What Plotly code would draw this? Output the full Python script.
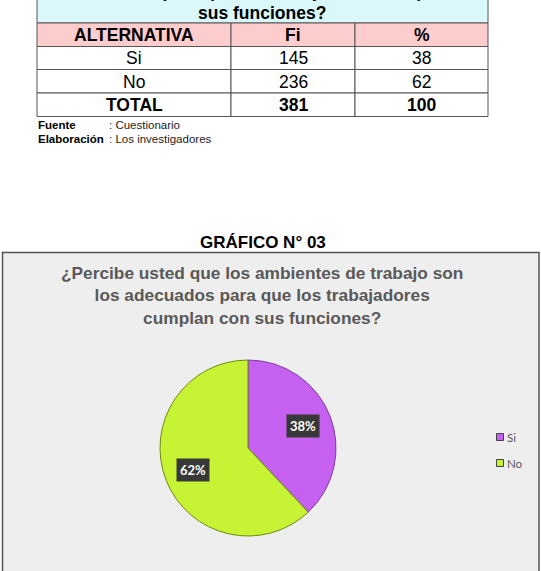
import math
import plotly.graph_objects as go

W, H = 541, 571

# ---- data ----
categories = ["Si", "No"]
fi_values = [145, 236]
pct_values = [38, 62]
total_label = "TOTAL"
total_fi = 381
total_pct = 100
table_headers = ["ALTERNATIVA", "Fi", "%"]
table_title_lines = ["los adecuados para que los trabajadores cumplan con", "sus funciones?"]
chart_title = "¿Percibe usted que los ambientes de trabajo son<br>los adecuados para que los trabajadores<br>cumplan con sus funciones?"
figure_caption = "GRÁFICO N° 03"
source_rows = [("Fuente", ": Cuestionario"), ("Elaboración", ": Los investigadores")]
slice_colors = ["#c660f0", "#c6f334"]
slice_edges = ["#7d3a9a", "#6f8a12"]


def px(x):
    return x / W


def py(y):
    return 1 - y / H


fig = go.Figure()
shapes = []
annotations = []
FONT = "Liberation Sans, Arial"

# ---- table (grid geometry) ----
col_edges = [37, 231, 355, 488]
row_edges = [23, 46.5, 69.5, 93, 116.5]
table_rows = [table_headers] + [[c, str(f), str(p)] for c, f, p in zip(categories, fi_values, pct_values)] \
    + [[total_label, str(total_fi), str(total_pct)]]
bold_rows = {0, len(table_rows) - 1}

# title row
shapes.append(dict(type="rect", xref="paper", yref="paper",
                   x0=px(col_edges[0]), x1=px(col_edges[-1]), y0=py(row_edges[0]), y1=py(-5),
                   fillcolor="#daf7fc", line=dict(color="#555555", width=1)))
for i, line in enumerate(table_title_lines):
    annotations.append(dict(text=f"<b>{line}</b>", xref="paper", yref="paper",
                            x=px(262), y=py(-9 + 22 * i), xanchor="center", yanchor="middle",
                            showarrow=False, font=dict(family=FONT, size=17.5, color="black")))

for ri, row in enumerate(table_rows):
    y0, y1 = row_edges[ri], row_edges[ri + 1]
    fill = "#fdcccc" if ri == 0 else "white"
    for ci, val in enumerate(row):
        x0, x1 = col_edges[ci], col_edges[ci + 1]
        shapes.append(dict(type="rect", xref="paper", yref="paper",
                           x0=px(x0), x1=px(x1), y0=py(y1), y1=py(y0),
                           fillcolor=fill, line=dict(color="#555555", width=1)))
        txt = f"<b>{val}</b>" if ri in bold_rows else val
        annotations.append(dict(text=txt, xref="paper", yref="paper",
                                x=px((x0 + x1) / 2), y=py((y0 + y1) / 2 + 0.5),
                                xanchor="center", yanchor="middle", showarrow=False,
                                font=dict(family=FONT, size=17.5, color="black")))

# source lines
for i, (k, v) in enumerate(source_rows):
    yy = 124.5 + 14 * i
    annotations.append(dict(text=f"<b>{k}</b>", xref="paper", yref="paper", x=px(36), y=py(yy),
                            xanchor="left", yanchor="middle", showarrow=False,
                            font=dict(family=FONT, size=11.5, color="black")))
    annotations.append(dict(text=v, xref="paper", yref="paper", x=px(107), y=py(yy),
                            xanchor="left", yanchor="middle", showarrow=False,
                            font=dict(family=FONT, size=11.5, color="#222222")))

# caption
annotations.append(dict(text=f"<b>{figure_caption}</b>", xref="paper", yref="paper",
                        x=px(262.5), y=py(242), xanchor="center", yanchor="middle", showarrow=False,
                        font=dict(family=FONT, size=17, color="black")))

# chart box
shapes.append(dict(type="rect", xref="paper", yref="paper", layer="below",
                   x0=px(2.5), x1=px(539), y0=py(575), y1=py(252.5),
                   fillcolor="#eeeeee", line=dict(color="#555555", width=1.5)))

annotations.append(dict(text=f"<b>{chart_title}</b>", xref="paper", yref="paper",
                        x=px(262), y=py(296), xanchor="center", yanchor="middle", showarrow=False,
                        font=dict(family=FONT, size=17.3, color="#595959")))

# ---- pie ----
cx, cy, r = 248, 448, 88
fig.add_trace(go.Pie(
    labels=categories, values=pct_values, sort=False, direction="clockwise", rotation=0,
    marker=dict(colors=slice_colors, line=dict(color=slice_edges, width=1)),
    textinfo="none", hoverinfo="label+percent",
    domain=dict(x=[px(cx - r), px(cx + r)], y=[py(cy + r), py(cy - r)]),
    showlegend=False,
))

# data labels placed at slice mid-angles
total = sum(pct_values)
acc = 0
for v in pct_values:
    mid = (acc + v / 2) / total * 2 * math.pi
    acc += v
    lx = cx + 0.67 * r * math.sin(mid)
    ly = cy - 0.67 * r * math.cos(mid)
    annotations.append(dict(text=f"<b>{round(v / total * 100)}%</b>", xref="paper", yref="paper",
                            x=px(lx), y=py(ly), xanchor="center", yanchor="middle", showarrow=False,
                            bgcolor="#383838", borderpad=3,
                            font=dict(family="Lato, Open Sans", size=13, color="white")))

# legend (drawn as keyed squares + labels)
for i, (cat, col, edge) in enumerate(zip(categories, slice_colors, slice_edges)):
    ly = 437 + 26 * i
    shapes.append(dict(type="rect", xref="paper", yref="paper",
                       x0=px(496.5), x1=px(503.5), y0=py(ly + 3.5), y1=py(ly - 3.5),
                       fillcolor=col, line=dict(color="#404040", width=1)))
    annotations.append(dict(text=cat, xref="paper", yref="paper", x=px(504.5), y=py(ly),
                            xanchor="left", yanchor="middle", showarrow=False,
                            font=dict(family="Lato, Open Sans", size=11.5, color="#595959")))

fig.update_layout(
    width=W, height=H, margin=dict(l=0, r=0, t=0, b=0),
    paper_bgcolor="white", plot_bgcolor="white",
    shapes=shapes, annotations=annotations, showlegend=False,
)

fig.write_html("out.html")
